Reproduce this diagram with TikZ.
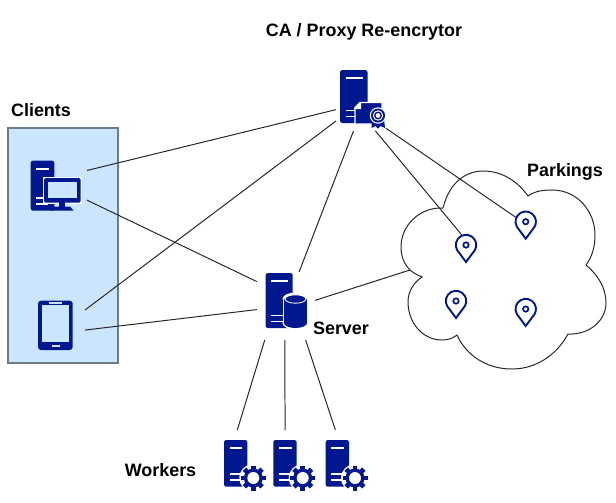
\documentclass[tikz,border=0pt]{standalone}
\usepackage{fontspec}
\setmainfont{Liberation Sans}
\usepackage{tikz}

\newcommand{\pxu}{0.025cm}
\definecolor{iconblue}{HTML}{00188F}
\definecolor{panelblue}{HTML}{CCE5FF}
\definecolor{panelgray}{HTML}{6D7B8A}

\tikzset{
    iconbox/.style 2 args={minimum width=#1*\pxu,minimum height=#2*\pxu,inner sep=0,outer sep=0},
    pinbox/.style={circle,minimum size=22*\pxu,inner sep=0,outer sep=0},
    boldtext/.style={font=\fontsize{12.75}{15}\selectfont\bfseries,inner sep=0},
    link/.style={line width=0.7pt,black!85},
    pics/tower/.style 2 args={code={
        \fill[iconblue,rounded corners=2.2*\pxu] (0,0) rectangle (#1,#2);
        \fill[white] (5.5,6.8) rectangle (#1-5,8.8);
        \fill[white] (5.5,#2-13.5) rectangle (#1-6,#2-11.8);
        \fill[white] (5.5,#2-7.5) rectangle (#1-6,#2-5.8);
    }},
    pics/gearmark/.style={code={
        \fill[white] (0,0) circle (14);
        \fill[iconblue] (0,0) circle (9.5);
        \foreach \a in {0,45,90,135}
            \fill[iconblue,rotate=\a] (-2.4,-12.5) rectangle (2.4,12.5);
        \fill[white] (0,0) circle (6);
    }},
    pics/pinmark/.style={code={
        \draw[iconblue,line width=1.35pt,line join=miter] (0,17) -- (150:10.2) arc (150:390:10.2) -- cycle;
        \draw[iconblue,line width=1.2pt] (0,0) circle (2.7);
    }},
}

\begin{document}
\begin{tikzpicture}[x=\pxu,y=-\pxu]
    \useasboundingbox (0,0) rectangle (616,502);

    % clients panel
    \filldraw[fill=panelblue,draw=panelgray,line width=1.4pt] (8,128) rectangle (118,363);

    % parkings cloud
    \draw[line width=0.7pt,black!85,fill=white] (443,208)
        .. controls (450,180) and (468,171) .. (483,171)
        .. controls (503,171) and (518,182) .. (528,196)
        .. controls (535,191) and (543,190) .. (552,190)
        .. controls (578,190) and (595,212) .. (595,235)
        .. controls (595,247) and (592,257) .. (586,265)
        .. controls (598,275) and (606,288) .. (606,303)
        .. controls (606,320) and (590,335) .. (568,334)
        .. controls (556,356) and (535,369) .. (512,369)
        .. controls (486,369) and (466,355) .. (457,335)
        .. controls (452,339) and (447,340) .. (442,340)
        .. controls (422,340) and (408,322) .. (408,302)
        .. controls (408,292) and (413,283) .. (422,277)
        .. controls (417,275) and (412,272) .. (410,270)
        .. controls (404,264) and (401,256) .. (401,247)
        .. controls (401,225) and (420,207) .. (443,208);
    \coordinate (cloudleft) at (410,270);

    % boxes round the icons, connectors end on them
    \node[iconbox={50}{65}] (ca) at (361,98.5) {};
    \node[iconbox={57}{54}] (pc) at (58.5,185) {};
    \node[iconbox={52}{54}] (phone) at (59,325) {};
    \node[iconbox={58}{68}] (server) at (286,306) {};
    \node[iconbox={42}{58}] (workera) at (244,459) {};
    \node[iconbox={42}{58}] (workerb) at (294.5,459) {};
    \node[iconbox={42}{58}] (workerc) at (346.5,459) {};
    \node[pinbox] (pina) at (466,245) {};
    \node[pinbox] (pinb) at (525.7,221.7) {};
    \node[pinbox] (pinc) at (456,301) {};
    \node[pinbox] (pind) at (525.7,309) {};

    % CA icon
    \pic at (340,70) {tower={27.5}{53}};
    \filldraw[iconblue,draw=white,line width=0.8pt] (360,102.5) -- (382,102.5) -- (382,124) -- (355,124) -- (355,107.5) -- cycle;
    \fill[white] (353.5,109) -- (361,109) -- (361,102) -- cycle;
    \fill[iconblue] (372,119) -- (371.5,128) -- (375.5,126) -- (378,128.5) -- (380.5,126) -- (385,128) -- (384,119) -- cycle;
    \fill[white] (378,115.5) circle (8.2);
    \fill[iconblue] (378,115.5) circle (7);
    \fill[white] (378,115.5) circle (5.2);
    \fill[iconblue] (378,115.5) circle (4);
    \fill[white] (378,115.5) circle (2.4);

    % PC icon
    \pic at (30.7,160.7) {tower={23.6}{50}};
    \fill[white] (42.5,176.5) rectangle (82,204.2);
    \fill[iconblue,rounded corners=1.5*\pxu] (44,178) rectangle (80.7,202.7);
    \fill[panelblue] (48,182) rectangle (77,198);
    \fill[iconblue] (59,202) rectangle (65,207);
    \fill[iconblue] (50.5,210.5) -- (54,206.5) -- (70,206.5) -- (73.5,210.5) -- cycle;

    % phone icon
    \fill[iconblue,rounded corners=3*\pxu] (38,300.7) rectangle (72.7,350);
    \fill[panelblue] (41.7,305.3) rectangle (69.3,341.7);
    \fill[panelblue] (49,302) rectangle (62,304);
    \fill[panelblue] (52,345) rectangle (60,347);

    % server icon
    \pic at (265.7,273) {tower={27}{55}};
    \fill[white] (282.5,299) rectangle (308.5,324);
    \fill[white] (295.5,299) ellipse (13 and 6.5);
    \fill[white] (295.5,323) ellipse (13 and 6.5);
    \fill[iconblue] (284,299) rectangle (307,323);
    \fill[iconblue] (295.5,323) ellipse (11.5 and 5);
    \filldraw[fill=iconblue,draw=white,line width=0.6pt] (295.5,299) ellipse (10.5 and 4.2);

    % worker icons
    \pic at (224,440) {tower={23.3}{46.7}};
    \pic at (253.3,478) {gearmark};
    \pic at (273.3,440) {tower={23.3}{46.7}};
    \pic at (302.7,478) {gearmark};
    \pic at (325.7,440) {tower={23.3}{46.7}};
    \pic at (355,478) {gearmark};

    % parking pins
    \pic at (pina) {pinmark};
    \pic at (pinb) {pinmark};
    \pic at (pinc) {pinmark};
    \pic at (pind) {pinmark};

    % links
    \draw[link] (pc.27.8) -- (ca.204.7);
    \draw[link] (pc.332) -- (server.140.4);
    \draw[link] (phone.30) -- (ca.222);
    \draw[link] (phone.349) -- (server.187.9);
    \draw[link] (ca.257.85) -- (server.69.1);
    \draw[link] (ca.294.8) -- (pina.113);
    \draw[link] (ca.310.3) -- (pinb.156);
    \draw[link] (server.11.7) -- (cloudleft);
    \draw[link] (server.238.3) -- (workera.103.6);
    \draw[link] (server.268.3) -- (workerb.108.1);
    \draw[link] (server.300.5) -- (workerc.111.6);

    % labels
    \node[boldtext] (calabel) at (364,31.5) {CA / Proxy Re-encrytor};
    \node[boldtext] (clientslabel) at (41,110) {Clients};
    \node[boldtext] (parkingslabel) at (565,171.5) {Parkings};
    \node[boldtext] (serverlabel) at (341,328) {Server};
    \node[boldtext] (workerslabel) at (160.5,470) {Workers};
\end{tikzpicture}
\end{document}
